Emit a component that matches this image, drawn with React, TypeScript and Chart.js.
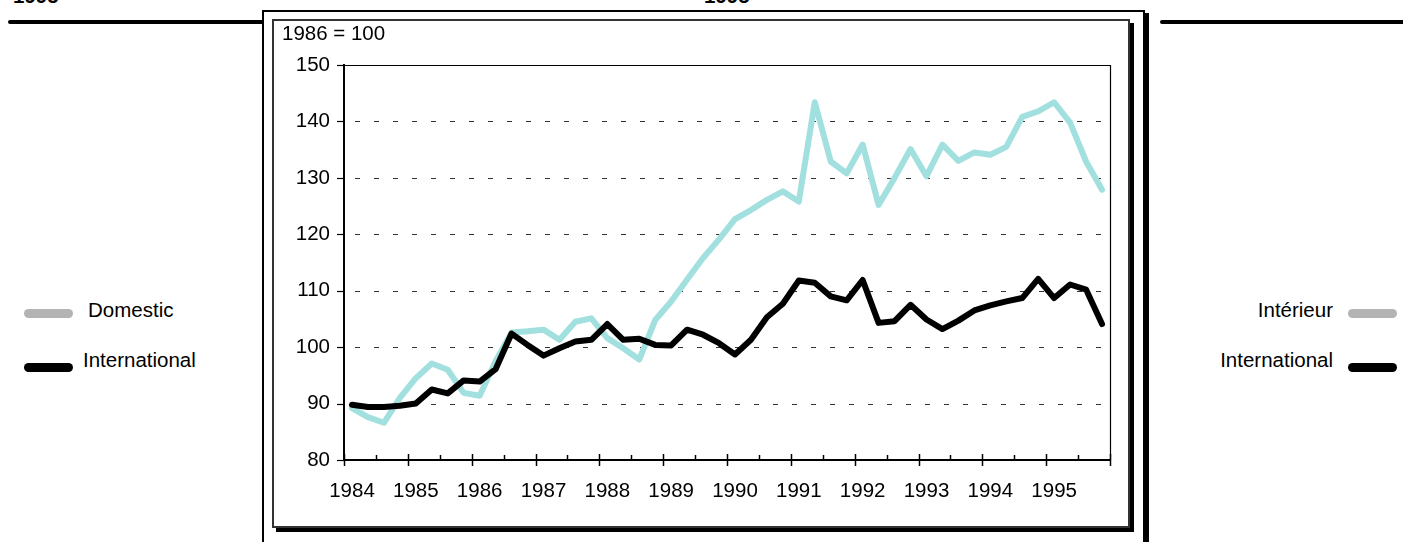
import React, { useEffect, useRef } from "react";
import { Chart, registerables } from "chart.js";

Chart.register(...registerables);

// ---- data ----
const years = ["1984", "1985", "1986", "1987", "1988", "1989", "1990", "1991", "1992", "1993", "1994", "1995"];
const categories: string[] = years.flatMap((y) => [y, "", "", ""]);

const domestic = [
  89.2, 87.6, 86.6, 91.0, 94.5, 97.1, 96.0, 91.9, 91.4, 97.5, 102.6, 102.8,
  103.1, 101.3, 104.5, 105.1, 101.6, 99.8, 97.8, 104.8, 108.1, 112.0, 115.8, 119.1,
  122.7, 124.3, 126.1, 127.6, 125.8, 143.4, 132.9, 130.8, 135.9, 125.2, 130.0, 135.1,
  130.3, 135.9, 133.0, 134.5, 134.1, 135.5, 140.8, 141.8, 143.4, 139.8, 132.9, 127.9,
];

const international = [
  89.8, 89.4, 89.4, 89.6, 90.0, 92.5, 91.8, 94.1, 93.9, 96.1, 102.4, 100.4,
  98.5, 99.8, 101.0, 101.3, 104.1, 101.3, 101.5, 100.4, 100.3, 103.1, 102.2, 100.7,
  98.7, 101.3, 105.3, 107.7, 111.8, 111.4, 109.0, 108.3, 111.9, 104.3, 104.6, 107.5,
  104.9, 103.2, 104.7, 106.5, 107.4, 108.1, 108.7, 112.1, 108.7, 111.1, 110.2, 104.1,
];

const yMin = 80;
const yMax = 150;
const yStep = 10;

const FONT = "'Liberation Sans', Arial, sans-serif";
const FONT_SIZE = 20.5;

const framePlugin = {
  id: "frame",
  beforeDatasetsDraw(chart: any) {
    const { ctx, chartArea: a, scales } = chart;
    const x = scales.x;
    const y = scales.y;
    ctx.save();
    // dashed horizontal grid lines
    ctx.strokeStyle = "#333";
    ctx.lineWidth = 1;
    ctx.setLineDash([5, 14]);
    for (let v = yMin + yStep; v < yMax; v += yStep) {
      const py = Math.round(y.getPixelForValue(v)) + 0.5;
      ctx.beginPath();
      ctx.moveTo(a.left + 11, py);
      ctx.lineTo(a.right - 8, py);
      ctx.stroke();
    }
    ctx.setLineDash([]);
    // top and right border of the plot area
    ctx.strokeStyle = "#000";
    ctx.lineWidth = 1.2;
    ctx.beginPath();
    ctx.moveTo(a.left, a.top + 0.5);
    ctx.lineTo(a.right + 0.5, a.top + 0.5);
    ctx.lineTo(a.right + 0.5, a.bottom);
    ctx.stroke();
    // y tick marks
    ctx.lineWidth = 1.2;
    for (let v = yMin; v <= yMax; v += yStep) {
      const py = Math.round(y.getPixelForValue(v)) + 0.5;
      ctx.beginPath();
      ctx.moveTo(a.left - 7, py);
      ctx.lineTo(a.left, py);
      ctx.stroke();
    }
    // x tick marks (major at year boundaries, minor at half years)
    ctx.lineWidth = 1.5;
    for (let k = 0; k <= categories.length; k += 2) {
      const px = Math.round(x.getPixelForValue(k - 0.5)) + 0.5;
      ctx.beginPath();
      if (k % 4 === 0) {
        ctx.moveTo(px, a.bottom - 6);
        ctx.lineTo(px, a.bottom + 6);
      } else {
        ctx.moveTo(px, a.bottom - 5);
        ctx.lineTo(px, a.bottom);
      }
      ctx.stroke();
    }
    ctx.restore();
  },
};

const abs = (s: React.CSSProperties): React.CSSProperties => ({ position: "absolute", ...s });

const textStyle = (s: React.CSSProperties): React.CSSProperties =>
  abs({ fontFamily: FONT, fontSize: FONT_SIZE, lineHeight: "20px", color: "#000", whiteSpace: "nowrap", ...s });

export default function App() {
  const canvasRef = useRef<HTMLCanvasElement | null>(null);

  useEffect(() => {
    if (!canvasRef.current) return;
    const chart = new Chart(canvasRef.current, {
      type: "line",
      data: {
        labels: categories,
        datasets: [
          {
            label: "International",
            data: international,
            borderColor: "#000000",
            backgroundColor: "#000000",
            borderWidth: 6,
            pointRadius: 0,
            tension: 0,
            borderCapStyle: "round",
            borderJoinStyle: "round",
          },
          {
            label: "Domestic",
            data: domestic,
            borderColor: "#a1e0df",
            backgroundColor: "#a1e0df",
            borderWidth: 6,
            pointRadius: 0,
            tension: 0,
            borderCapStyle: "round",
            borderJoinStyle: "round",
          },
        ],
      },
      options: {
        animation: false,
        responsive: false,
        maintainAspectRatio: false,
        events: [],
        layout: { padding: { left: 0, right: 18, top: 41, bottom: 24 } },
        plugins: {
          legend: { display: false },
          title: { display: false },
          tooltip: { enabled: false },
        },
        scales: {
          x: {
            type: "category",
            offset: true,
            grid: { display: false, drawTicks: false, tickLength: 0 },
            border: { display: true, color: "#000", width: 2 },
            ticks: {
              autoSkip: false,
              maxRotation: 0,
              minRotation: 0,
              padding: 19,
              color: "#000",
              font: { family: FONT, size: FONT_SIZE },
            },
            afterFit: (scale: any) => {
              scale.height = 40;
            },
          },
          y: {
            min: yMin,
            max: yMax,
            grid: { display: false, drawTicks: false, tickLength: 0 },
            border: { display: true, color: "#000", width: 2 },
            ticks: {
              stepSize: yStep,
              padding: 14,
              color: "#000",
              font: { family: FONT, size: FONT_SIZE },
            },
            afterFit: (scale: any) => {
              scale.width = 68;
            },
          },
        },
      },
      plugins: [framePlugin],
    });
    return () => chart.destroy();
  }, []);

  return (
    <div style={abs({ left: 0, top: 0, width: 1403, height: 542, overflow: "hidden", background: "#fff" })}>
      {/* cut-off headings at the very top */}
      <div style={textStyle({ left: 13, top: -14, fontWeight: "bold" })}>1995</div>
      <div style={textStyle({ left: 704, top: -14, fontWeight: "bold" })}>1995</div>

      {/* top rules */}
      <div style={abs({ left: 8, top: 19.5, width: 256, height: 4.5, background: "#000", borderRadius: "3px 0 0 3px" })} />
      <div style={abs({ left: 1160, top: 19.5, width: 250, height: 4.5, background: "#000", borderRadius: "3px 0 0 3px" })} />

      {/* outer frame */}
      <div
        style={abs({
          left: 262,
          top: 9.5,
          width: 883,
          height: 620,
          boxSizing: "border-box",
          border: "2px solid #000",
          boxShadow: "4px 3px 0 #000",
          background: "#fff",
        })}
      />
      {/* inner frame */}
      <div
        style={abs({
          left: 272,
          top: 19,
          width: 858,
          height: 509,
          boxSizing: "border-box",
          border: "2px solid #333",
          boxShadow: "4px 4px 0 #000",
          background: "#fff",
        })}
      />

      <canvas ref={canvasRef} width={852} height={500} style={abs({ left: 276, top: 24, width: 852, height: 500 })} />

      <div style={textStyle({ left: 282, top: 23 })}>1986 = 100</div>

      {/* left legend (English) */}
      <div style={abs({ left: 24, top: 309, width: 49, height: 9, background: "#b3b3b3", borderRadius: 5 })} />
      <div style={textStyle({ left: 88, top: 300 })}>Domestic</div>
      <div style={abs({ left: 24, top: 363, width: 49, height: 9, background: "#000", borderRadius: 5 })} />
      <div style={textStyle({ left: 83, top: 350 })}>International</div>

      {/* right legend (French) */}
      <div style={textStyle({ right: 70, top: 300, textAlign: "right" })}>Intérieur</div>
      <div style={abs({ left: 1348, top: 309, width: 49, height: 9, background: "#b3b3b3", borderRadius: 5 })} />
      <div style={textStyle({ right: 70, top: 350, textAlign: "right" })}>International</div>
      <div style={abs({ left: 1348, top: 363, width: 49, height: 9, background: "#000", borderRadius: 5 })} />
    </div>
  );
}
